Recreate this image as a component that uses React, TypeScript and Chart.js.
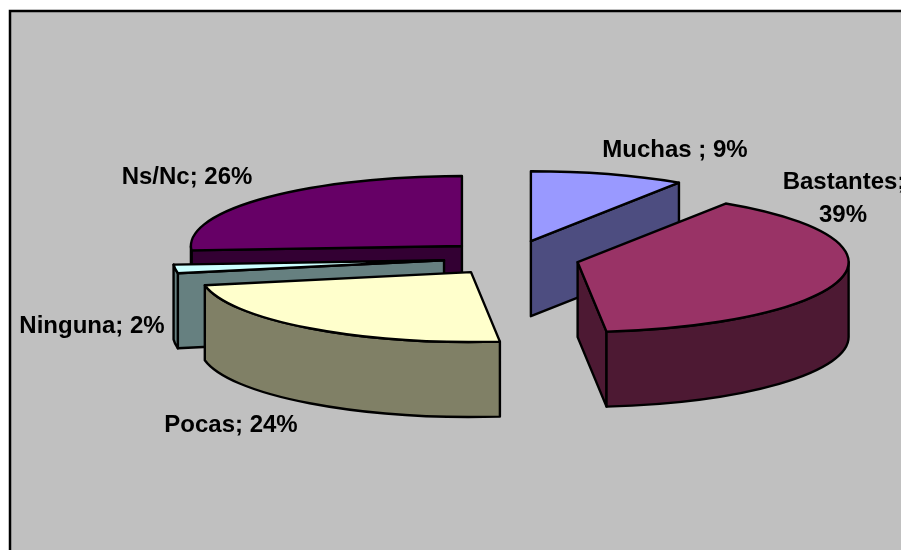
import React, { useEffect, useRef } from "react";
import { Chart, registerables } from "chart.js";

Chart.register(...registerables);

const categories = ["Muchas ", "Bastantes", "Pocas", "Ninguna", "Ns/Nc"];
const values = [9.2, 39.1, 23.7, 2.0, 26.0];
const topColors = ["#9999FF", "#993366", "#FFFFCC", "#CCFFFF", "#660066"];
const wallColors = ["#4D4D80", "#4D1933", "#808066", "#668080", "#330033"];
const paintOrder = [4, 3, 2, 0, 1];

const WIDTH = 901;
const HEIGHT = 550;
const TILT = 0.258;
const DEPTH = 75;
const EXPLODE = 68;
const labelAnchors: Record<string, { x: number; y: number }[]> = {
  "Muchas ": [{ x: 675, y: 150 }],
  Bastantes: [{ x: 844, y: 182 }, { x: 843, y: 215 }],
  Pocas: [{ x: 231, y: 425 }],
  Ninguna: [{ x: 92, y: 326 }],
  "Ns/Nc": [{ x: 187, y: 177 }],
};

const pie3d = {
  id: "pie3d",
  beforeDraw(chart: any) {
    const { ctx } = chart;
    ctx.save();
    ctx.fillStyle = "#C0C0C0";
    ctx.fillRect(10, 11, WIDTH, HEIGHT);
    ctx.strokeStyle = "#000";
    ctx.lineWidth = 2.5;
    ctx.beginPath();
    ctx.moveTo(10, HEIGHT + 5);
    ctx.lineTo(10, 11);
    ctx.lineTo(WIDTH + 5, 11);
    ctx.stroke();
    ctx.restore();
  },
  beforeDatasetDraw(chart: any) {
    const { ctx } = chart;
    const arcs = chart.getDatasetMeta(0).data;
    ctx.save();
    ctx.lineWidth = 2.4;
    ctx.lineJoin = "round";
    ctx.strokeStyle = "#000";
    for (const i of paintOrder) {
      const arc = arcs[i];
      const { x, y, startAngle: a0, endAngle: a1, outerRadius: r } = arc;
      const mid = (a0 + a1) / 2;
      const cx = x + Math.cos(mid) * EXPLODE;
      const cy = y + Math.sin(mid) * EXPLODE * TILT;
      const ry = r * TILT;
      const px = (a: number) => cx + r * Math.cos(a);
      const py = (a: number) => cy + ry * Math.sin(a);
      ctx.fillStyle = wallColors[i];

      const wall = (a: number) => {
        ctx.beginPath();
        ctx.moveTo(cx, cy);
        ctx.lineTo(px(a), py(a));
        ctx.lineTo(px(a), py(a) + DEPTH);
        ctx.lineTo(cx, cy + DEPTH);
        ctx.closePath();
        ctx.fill();
        ctx.stroke();
      };
      if (Math.cos(a0) < 0) wall(a0);
      if (Math.cos(a1) > 0) wall(a1);

      const w0 = Math.max(a0, 0);
      const w1 = Math.min(a1, Math.PI);
      if (w1 > w0) {
        ctx.beginPath();
        ctx.ellipse(cx, cy, r, ry, 0, w0, w1);
        ctx.ellipse(cx, cy + DEPTH, r, ry, 0, w1, w0, true);
        ctx.closePath();
        ctx.fill();
        ctx.stroke();
      }

      ctx.fillStyle = topColors[i];
      ctx.beginPath();
      ctx.moveTo(cx, cy);
      ctx.ellipse(cx, cy, r, ry, 0, a0, a1);
      ctx.closePath();
      ctx.fill();
      ctx.stroke();
    }
    ctx.restore();
    return false;
  },
  afterDraw(chart: any) {
    const { ctx } = chart;
    ctx.save();
    ctx.fillStyle = "#000";
    ctx.font = "bold 24px 'Liberation Sans', Arial, sans-serif";
    ctx.textAlign = "center";
    ctx.textBaseline = "middle";
    categories.forEach((name, i) => {
      const pct = `${Math.round(values[i])}%`;
      const anchors = labelAnchors[name];
      if (anchors.length === 2) {
        ctx.fillText(`${name};`, anchors[0].x, anchors[0].y);
        ctx.fillText(pct, anchors[1].x, anchors[1].y);
      } else {
        ctx.fillText(`${name}; ${pct}`, anchors[0].x, anchors[0].y);
      }
    });
    ctx.restore();
  },
};

export default function App() {
  const ref = useRef<HTMLCanvasElement>(null);
  useEffect(() => {
    const chart = new Chart(ref.current as HTMLCanvasElement, {
      type: "pie",
      data: {
        labels: categories,
        datasets: [{ data: values, backgroundColor: topColors, radius: 271, borderWidth: 0 } as any],
      },
      options: {
        animation: false,
        responsive: false,
        layout: { padding: { left: 122, bottom: 34 } },
        plugins: { legend: { display: false }, tooltip: { enabled: false } },
      },
      plugins: [pie3d],
    } as any);
    return () => chart.destroy();
  }, []);
  return (
    <canvas
      ref={ref}
      width={WIDTH}
      height={HEIGHT}
      style={{ position: "fixed", left: 0, top: 0, width: WIDTH, height: HEIGHT, background: "#fff" }}
    />
  );
}
